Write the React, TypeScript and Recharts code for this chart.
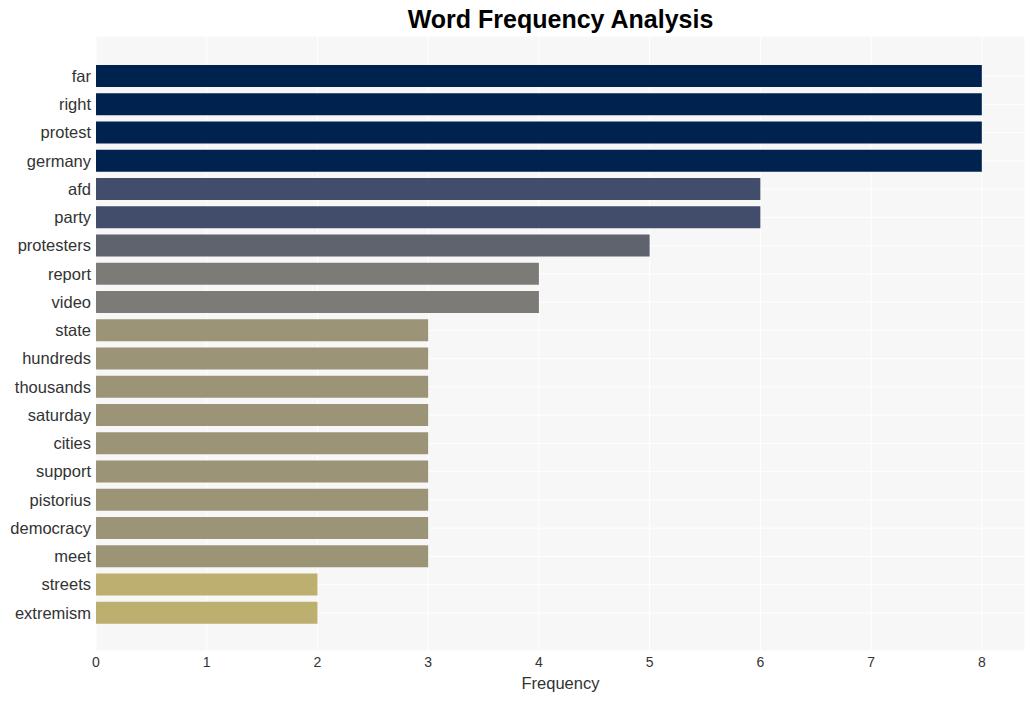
import { BarChart, Bar, XAxis, YAxis, CartesianGrid, Cell } from 'recharts'

const words = [
  'far', 'right', 'protest', 'germany', 'afd', 'party', 'protesters', 'report', 'video', 'state',
  'hundreds', 'thousands', 'saturday', 'cities', 'support', 'pistorius', 'democracy', 'meet',
  'streets', 'extremism',
]
const counts = [8, 8, 8, 8, 6, 6, 5, 4, 4, 3, 3, 3, 3, 3, 3, 3, 3, 3, 2, 2]
const xTicks = [0, 1, 2, 3, 4, 5, 6, 7, 8]

// colour per count, cividis-like
const colorFor: Record<number, string> = {
  8: '#00224e',
  6: '#414d6b',
  5: '#5f636e',
  4: '#7c7b78',
  3: '#9b9477',
  2: '#bcaf6f',
}

const data = words.map((w, i) => ({ word: w, count: counts[i] }))

const font = '"Liberation Sans", Arial, sans-serif'

export default function App() {
  return (
    <div style={{ position: 'absolute', left: 0, top: 0, width: 1036, height: 701, background: '#fff', fontFamily: font }}>
      <div
        style={{
          position: 'absolute',
          top: 5,
          left: 96,
          width: 929,
          textAlign: 'center',
          fontSize: 25,
          fontWeight: 'bold',
          color: '#000',
        }}
      >
        Word Frequency Analysis
      </div>
      <BarChart
        width={1036}
        height={701}
        data={data}
        layout="vertical"
        margin={{ top: 36, right: 11, bottom: 0, left: 0 }}
        barCategoryGap={3}
      >
        <CartesianGrid fill="#f7f7f7" stroke="#ffffff" strokeWidth={1} />
        <XAxis
          type="number"
          domain={[0, 8.39]}
          ticks={xTicks}
          allowDataOverflow
          height={50}
          tickLine={false}
          axisLine={false}
          tickSize={0}
          tickMargin={6}
          tick={{ fill: '#333', fontSize: 14, fontFamily: font }}
          label={{ value: 'Frequency', position: 'insideBottom', offset: 12, fill: '#333', fontSize: 16.5, fontFamily: font }}
        />
        <YAxis
          type="category"
          dataKey="word"
          width={96}
          interval={0}
          tickLine={false}
          axisLine={false}
          tickSize={0}
          tickMargin={5}
          padding={{ top: 26, bottom: 24 }}
          tick={{ fill: '#333', fontSize: 16.5, fontFamily: font }}
        />
        <Bar dataKey="count" isAnimationActive={false}>
          {data.map((d) => (
            <Cell key={d.word} fill={colorFor[d.count]} />
          ))}
        </Bar>
      </BarChart>
    </div>
  )
}
